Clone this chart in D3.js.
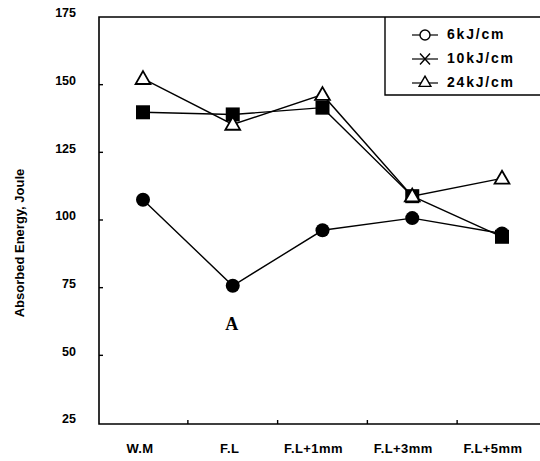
<!DOCTYPE html>
<html lang="en">
<head>
    <meta charset="UTF-8">
    <title>Absorbed Energy</title>
    <script src="https://d3js.org/d3.v7.min.js"></script>
    <style>
        body { margin: 0; background: #fff; }
        svg { display: block; }
        text { font-family: "Liberation Sans", Arial, sans-serif; fill: #000; }
    </style>
</head>
<body>
<div id="container"></div>
<script>
    // data
    const positions = ['W.M', 'F.L', 'F.L+1mm', 'F.L+3mm', 'F.L+5mm'];
    const energy6 = [107.5, 75.7, 96.2, 100.7, 95];
    const energy10 = [139.8, 139, 141.5, 108.8, 93.8];
    const energy24 = [152.2, 135.3, 146.3, 108.8, 115.4];
    const yTicks = [25, 50, 75, 100, 125, 150, 175];
    const legendLabels = ['6kJ/cm', '10kJ/cm', '24kJ/cm'];

    const width = 540, height = 461;
    const plotLeft = 99, plotRight = 540, plotTop = 17, plotBottom = 424;

    const svg = d3.select('#container').append('svg')
        .attr('width', width).attr('height', height);

    const x = d3.scalePoint().domain(positions).range([143, 502]);
    const y = d3.scaleLinear().domain([25, 175]).range([423, plotTop]);

    // frame: left, bottom, top
    svg.append('path')
        .attr('d', `M${plotRight},${plotTop}H${plotLeft}V${plotBottom}H${plotRight}`)
        .attr('fill', 'none').attr('stroke', '#000').attr('stroke-width', 1.6);

    // y ticks + labels
    svg.selectAll('.ytick').data(yTicks.slice(1, -1)).enter().append('line')
        .attr('x1', plotLeft).attr('x2', plotLeft + 4)
        .attr('y1', d => y(d)).attr('y2', d => y(d))
        .attr('stroke', '#000').attr('stroke-width', 1.4);
    svg.selectAll('.ylab').data(yTicks).enter().append('text')
        .attr('x', 76).attr('y', d => y(d) - 3)
        .attr('text-anchor', 'end').attr('dominant-baseline', 'middle')
        .attr('font-size', 12.5).attr('font-weight', 'bold')
        .text(d => d);

    // x ticks between categories
    const step = x.step();
    svg.selectAll('.xtick').data(positions.slice(1)).enter().append('line')
        .attr('x1', d => x(d) - step / 2).attr('x2', d => x(d) - step / 2)
        .attr('y1', plotBottom).attr('y2', plotBottom - 4)
        .attr('stroke', '#000').attr('stroke-width', 1.4);
    svg.selectAll('.xlab').data(positions).enter().append('text')
        .attr('x', (d, i) => x(d) - (i < 2 ? 3 : 9))
        .attr('y', 453)
        .attr('text-anchor', 'middle')
        .attr('font-size', 13).attr('font-weight', 'bold')
        .attr('letter-spacing', 0.4)
        .text(d => d);

    // y axis title
    svg.append('text')
        .attr('transform', 'translate(24,243) rotate(-90)')
        .attr('text-anchor', 'middle')
        .attr('font-size', 13).attr('font-weight', 'bold')
        .text('Absorbed Energy, Joule');

    const line = d3.line().x((d, i) => x(positions[i])).y(d => y(d));
    [energy24, energy10, energy6].forEach(s => {
        svg.append('path').attr('d', line(s))
            .attr('fill', 'none').attr('stroke', '#000').attr('stroke-width', 1.4);
    });

    const tri = d3.symbol().type(d3.symbolTriangle).size(95);

    // markers
    svg.selectAll('.c6').data(energy6).enter().append('circle')
        .attr('cx', (d, i) => x(positions[i])).attr('cy', d => y(d))
        .attr('r', 7).attr('fill', '#000');
    svg.selectAll('.s10').data(energy10).enter().append('rect')
        .attr('x', (d, i) => x(positions[i]) - 7).attr('y', d => y(d) - 7)
        .attr('width', 14).attr('height', 14).attr('fill', '#000');
    svg.selectAll('.t24').data(energy24).enter().append('path')
        .attr('d', tri)
        .attr('transform', (d, i) => `translate(${x(positions[i])},${y(d) + 1})`)
        .attr('fill', '#fff').attr('stroke', '#000').attr('stroke-width', 1.8);

    // "A" annotation under F.L
    svg.append('text')
        .attr('x', x('F.L') - 1).attr('y', y(energy6[1]) + 44)
        .attr('text-anchor', 'middle')
        .style('font-family', '"Liberation Serif", serif')
        .attr('font-size', 18).attr('font-weight', 'bold')
        .text('A');

    // legend
    const lg = svg.append('g');
    lg.append('path')
        .attr('d', `M385,${plotTop}V95H${plotRight}`)
        .attr('fill', 'none').attr('stroke', '#000').attr('stroke-width', 1.4);
    const legY = [35, 59, 83];
    legendLabels.forEach((lab, i) => {
        const cy = legY[i];
        const g = lg.append('g');
        g.append('line').attr('x1', 412).attr('x2', 438).attr('y1', cy).attr('y2', cy)
            .attr('stroke', '#000').attr('stroke-width', 1.2);
        if (i === 0) {
            g.append('circle').attr('cx', 425).attr('cy', cy).attr('r', 5)
                .attr('fill', '#fff').attr('stroke', '#000').attr('stroke-width', 1.4);
        } else if (i === 1) {
            g.append('path').attr('d', `M420,${cy - 5.5}L430,${cy + 5.5}M420,${cy + 5.5}L430,${cy - 5.5}`)
                .attr('stroke', '#000').attr('stroke-width', 1.4);
        } else {
            g.append('path').attr('d', d3.symbol().type(d3.symbolTriangle).size(60))
                .attr('transform', `translate(425,${cy})`)
                .attr('fill', '#fff').attr('stroke', '#000').attr('stroke-width', 1.4);
        }
        g.append('text').attr('x', 447).attr('y', cy)
            .attr('dominant-baseline', 'middle')
            .attr('font-size', 14).attr('font-weight', 'bold')
            .attr('letter-spacing', 1.8)
            .text(lab);
    });
</script>
</body>
</html>
